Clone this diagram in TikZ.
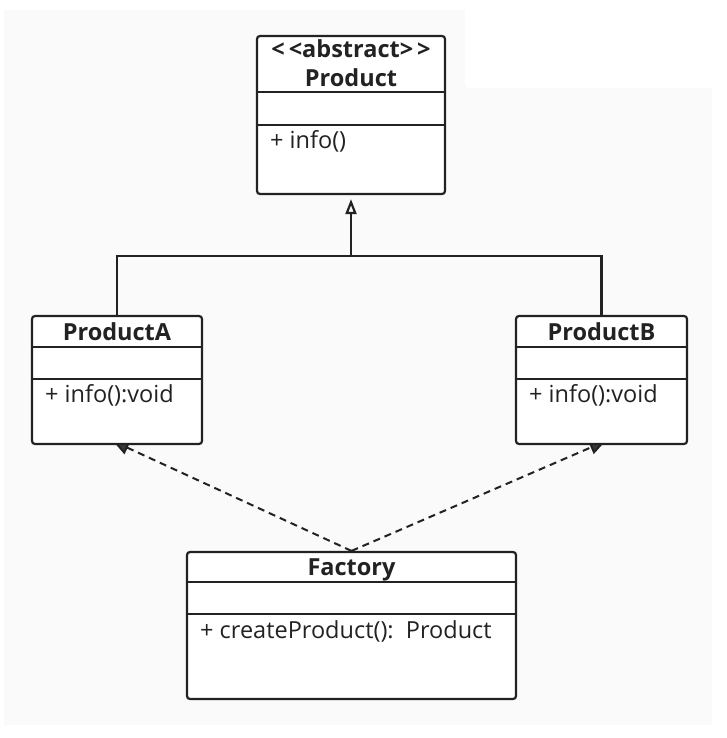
\documentclass[tikz,border=0pt]{standalone}
\usepackage{fontspec}
\setmainfont{Open Sans}
\usetikzlibrary{arrows.meta,backgrounds}
\pgfdeclarelayer{canvas}
\pgfsetlayers{canvas,background,main}
\definecolor{panel}{HTML}{FAFAFA}
\definecolor{ink}{HTML}{222222}

\begin{document}
\begin{tikzpicture}[x=1pt,y=-1pt,
	classbox/.style={draw=ink,line width=2.2pt,fill=white,rounded corners=3pt,inner sep=0pt},
	divider/.style={draw=ink,line width=1.8pt},
	title/.style={anchor=base,inner sep=0pt,text=ink,font=\fontsize{23.5}{28}\selectfont\bfseries},
	method/.style={anchor=base west,inner sep=0pt,text=ink,font=\fontsize{23.5}{28}\selectfont},
	link/.style={draw=ink,line width=2.2pt},
	realize/.style={draw=ink,line width=2pt,dash pattern=on 7pt off 5pt}]

		\useasboundingbox (0,0) rectangle (726,738);
		\begin{pgfonlayer}{canvas}
			\fill[white] (0,0) rectangle (726,738);
			\fill[panel] (4,10) rectangle (712,725);
			\fill[white,rounded corners=5pt] (465,-10) rectangle (740,88);
		\end{pgfonlayer}

		% classes
		\node[classbox,minimum width=188pt,minimum height=158pt] (p) at (351,115) {};
		\node[classbox,minimum width=170pt,minimum height=128pt] (pa) at (117,380) {};
		\node[classbox,minimum width=171pt,minimum height=128pt] (pb) at (601.5,380) {};
		\node[classbox,minimum width=329pt,minimum height=147pt] (fac) at (351.5,625.5) {};

		\draw[divider] (p.north west) ++(0,57) -- ++(188,0);
		\draw[divider] (p.north west) ++(0,90) -- ++(188,0);
		\draw[divider] (pa.north west) ++(0,32) -- ++(170,0);
		\draw[divider] (pa.north west) ++(0,64) -- ++(170,0);
		\draw[divider] (pb.north west) ++(0,32) -- ++(171,0);
		\draw[divider] (pb.north west) ++(0,64) -- ++(171,0);
		\draw[divider] (fac.north west) ++(0,31) -- ++(329,0);
		\draw[divider] (fac.north west) ++(0,63) -- ++(329,0);

		\node[title] (ptag) at (351,58) {{<}\kern4pt{<}abstract{>}\kern4pt{>}};
		\node[title] (pname) at (351,87) {Product};
		\node[title] (paname) at (117,340) {ProductA};
		\node[title] (pbname) at (601.5,340) {ProductB};
		\node[title] (facname) at (351.5,575) {Factory};

		\node[method] (pinfo) at (270,149) {+ info()};
		\node[method] (painfo) at (45,402) {+ info():void};
		\node[method] (pbinfo) at (529,402) {+ info():void};
		\node[method] (faccreate) at (200,638) {+ createProduct():\ \ Product};

		% generalization
		\coordinate (split) at (351,256);
		\draw[link] (pa.north) |- (split) -| (pb.north);
		\draw[link,-{Triangle[open,length=15pt,width=11pt]},shorten >=4pt] (split) -- (p.south);

		% realization, tips half hidden under the boxes
		\coordinate (patip) at ([shift={(-4,-4)}]pa.south);
		\coordinate (pbtip) at ([shift={(4,-4)}]pb.south);
		\begin{scope}[on background layer]
			\draw[realize,-{Triangle[length=16pt,width=14pt,fill=ink!90]}] (fac.north) -- (patip);
			\draw[realize,-{Triangle[length=16pt,width=14pt,fill=ink!90]}] (fac.north) -- (pbtip);
		\end{scope}
\end{tikzpicture}
\end{document}
